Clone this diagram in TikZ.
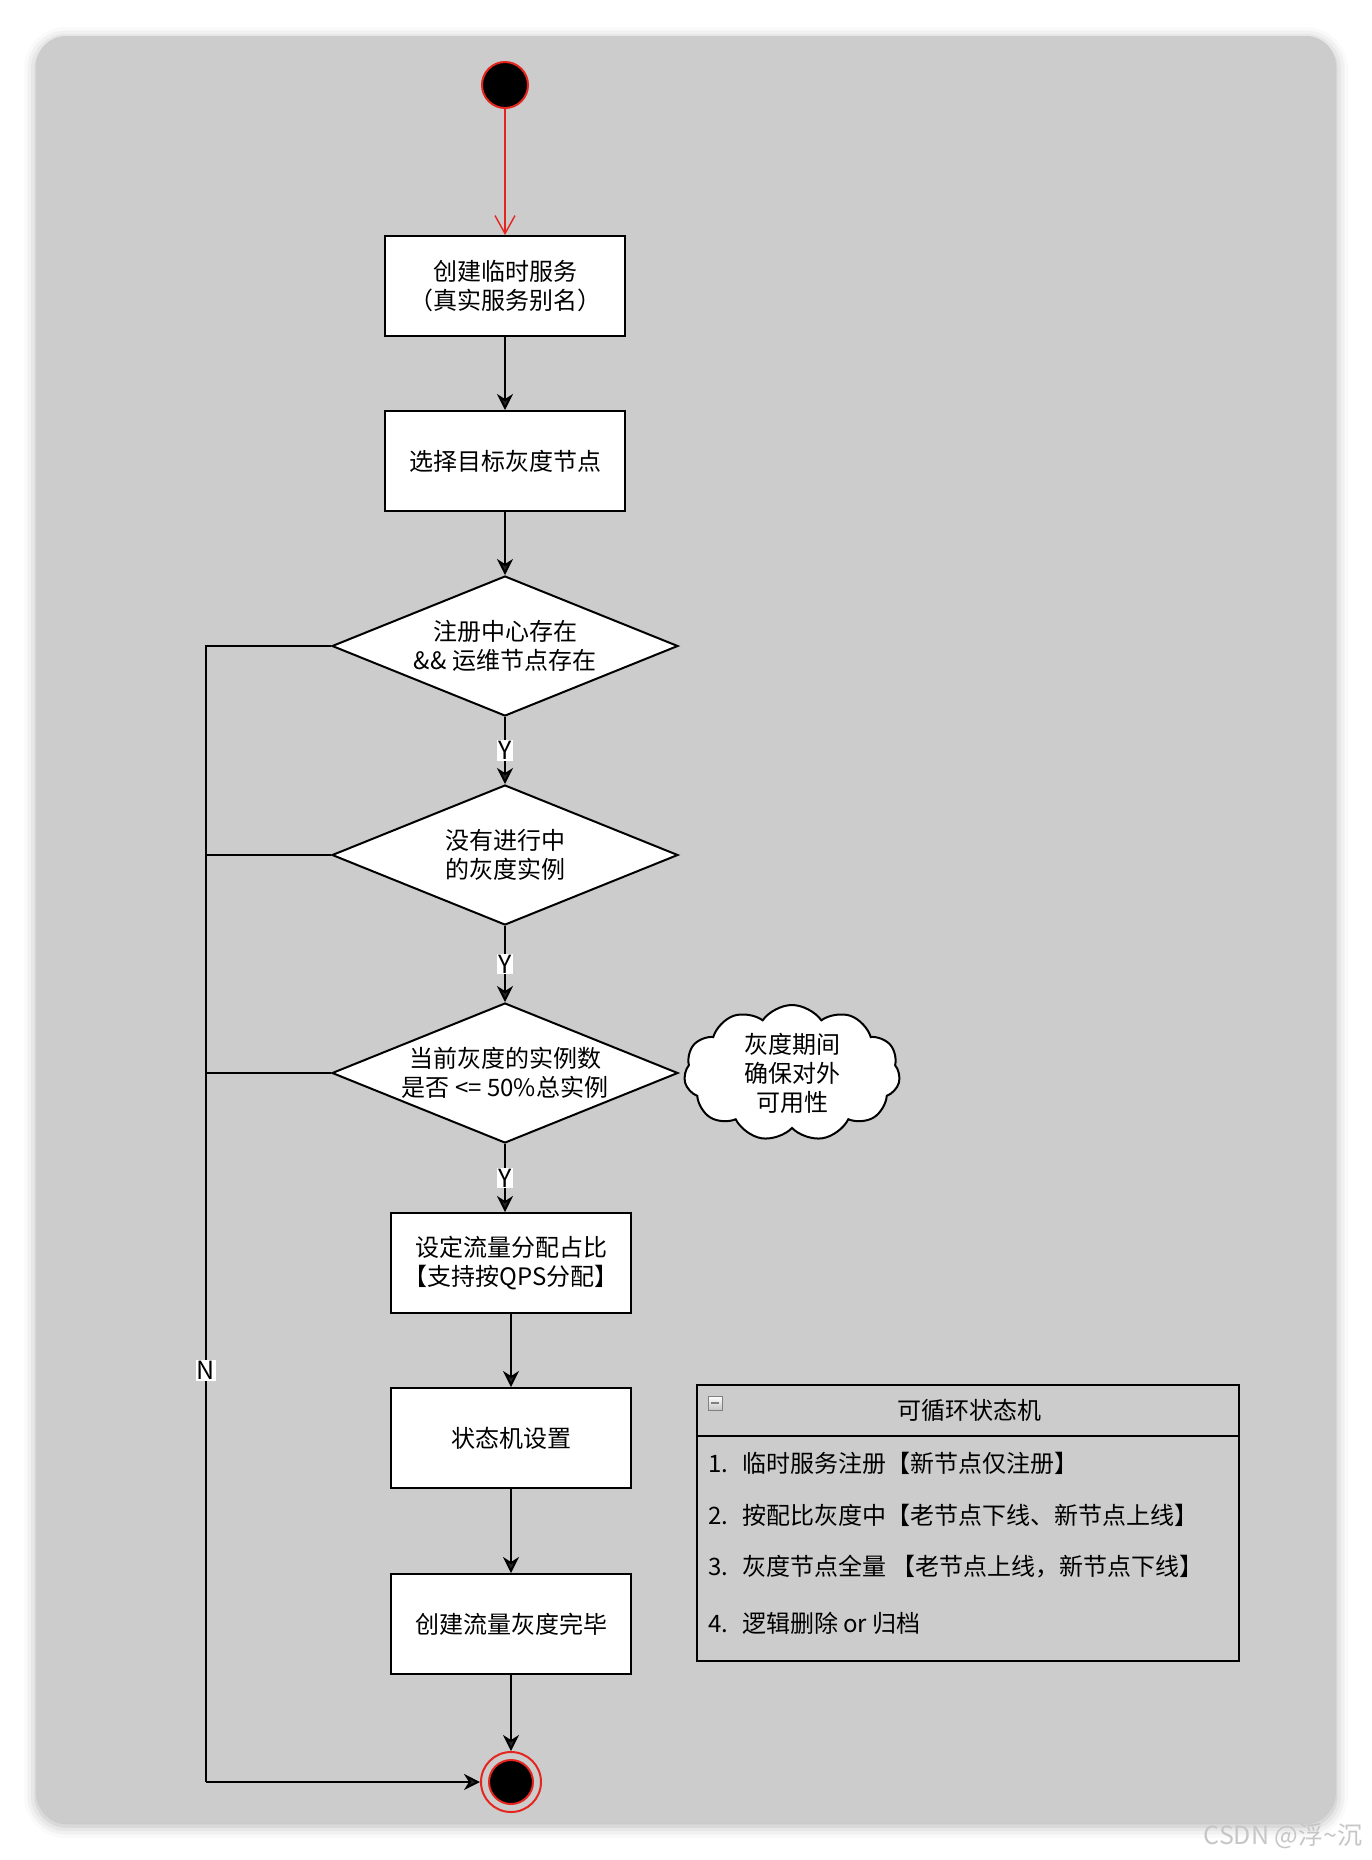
\documentclass[tikz,border=0pt]{standalone}
\usepackage{fontspec}
\setmainfont{Noto Sans CJK SC}
\usetikzlibrary{shapes.geometric, shapes.symbols, arrows.meta, calc, shadows.blur}
\definecolor{bggray}{RGB}{204,204,204}
\definecolor{startred}{RGB}{228,38,30}

\begin{document}
\begin{tikzpicture}[x=0.5pt, y=-0.5pt,
    every node/.style={font=\fontsize{12}{14.5}\selectfont, align=center},
    start/.style={circle, fill=black, draw=startred, line width=1pt, minimum size=23pt, inner sep=0pt},
    finish/.style={circle, draw=startred, line width=1pt, minimum size=30pt, inner sep=0pt,
        path picture={\filldraw[fill=black, draw=startred, line width=1pt] (path picture bounding box.center) circle (11pt);}},
    action/.style={rectangle, draw, fill=white, line width=1pt, minimum width=120pt, minimum height=50pt, inner sep=2pt},
    decision/.style={diamond, draw, fill=white, line width=1pt, minimum width=173pt, minimum height=70pt, aspect=2.47, inner sep=0pt},
    note/.style={cloud, cloud puffs=11, cloud puff arc=110, aspect=1.55, draw, fill=white, line width=1pt, minimum width=108pt, minimum height=68pt, inner sep=0pt},
    flow/.style={-{Stealth[length=8pt, width=8pt, inset=2.5pt]}, line width=1pt},
    ylabel/.style={fill=white, inner sep=0.6pt, font=\fontsize{12.5}{12.5}\selectfont},
    listitem/.style={anchor=west, font=\fontsize{12}{14}\selectfont},
    minusbox/.style={rectangle, draw=gray, line width=0.5pt, minimum size=7pt, inner sep=0pt, top color=white, bottom color=gray!45,
        path picture={\draw[line width=0.7pt] ([xshift=1.5pt]path picture bounding box.west) -- ([xshift=-1.5pt]path picture bounding box.east);}}
]
\useasboundingbox (0,0) rectangle (1372,1860);
% background card
\fill[bggray, rounded corners=15pt, blur shadow={shadow xshift=0pt, shadow yshift=-1.5pt, shadow blur radius=6pt, shadow opacity=30}] (36,36) rectangle (1336,1823);

% main flow
\node[start] (s) at (505,85) {};
\node[action] (b1) at (505,286) {创建临时服务\\（真实服务别名）};
\node[action] (b2) at (505,461) {选择目标灰度节点};
\node[decision, label={[align=center]center:注册中心存在\\\&\& 运维节点存在}] (d1) at (505,646) {};
\node[decision, label={[align=center]center:没有进行中\\的灰度实例}] (d2) at (505,855) {};
\node[decision, label={[align=center]center:当前灰度的实例数\\是否 <= 50\%总实例}] (d3) at (505,1073) {};
\node[action] (b3) at (511,1263) {设定流量分配占比\\【支持按QPS分配】};
\node[action] (b4) at (511,1438) {状态机设置};
\node[action] (b5) at (511,1624) {创建流量灰度完毕};
\node[finish] (e) at (511,1782) {};

\node[note, label={[align=center]center:灰度期间\\确保对外\\可用性}] (cl) at (792,1073) {};

\draw[startred, line width=0.7pt, -{Straight Barb[length=9pt, width=10pt]}] (s) -- (b1);
\draw[flow] (b1) -- (b2);
\draw[flow] (b2) -- (d1);
\draw[flow] (d1) -- node[ylabel] {Y} (d2);
\draw[flow] (d2) -- node[ylabel] {Y} (d3);
\draw[flow] (d3.south) -- node[ylabel] {Y} (d3.south |- b3.north);
\draw[flow] (b3) -- (b4);
\draw[flow] (b4) -- (b5);
\draw[flow] (b5) -- (e);

% no branch
\coordinate (rail) at (206,1782);
\draw[line width=1pt] (d2.west) -| (rail);
\draw[line width=1pt] (d3.west) -| (rail);
\draw[line width=1pt] (d1.west) -| node[ylabel, pos=0.819] {N} (rail);
\draw[flow] (rail) -- (e);

% state machine list
\node[rectangle, draw, line width=1pt, minimum width=271pt, minimum height=138pt, inner sep=0pt] (sm) at (968,1523) {};
\draw[line width=1pt] ($(sm.north west)+(0,52)$) -- ($(sm.north east)+(0,52)$);
\node[minusbox] (collapse) at (715,1403) {};
\node[font=\fontsize{12}{14}\selectfont] (smtitle) at (969,1410) {可循环状态机};
\node[listitem] (it1) at (701,1463) {\makebox[17pt][l]{1.}临时服务注册【新节点仅注册】};
\node[listitem] (it2) at (701,1515) {\makebox[17pt][l]{2.}按配比灰度中【老节点下线、新节点上线】};
\node[listitem] (it3) at (701,1567) {\makebox[17pt][l]{3.}灰度节点全量 【老节点上线，新节点下线】};
\node[listitem] (it4) at (701,1623) {\makebox[17pt][l]{4.}逻辑删除 or 归档};

% watermark
\node[text=gray!45, font=\fontsize{12.5}{14}\selectfont] (wm) at (1283,1836) {CSDN @浮\textasciitilde 沉};
\end{tikzpicture}
\end{document}
